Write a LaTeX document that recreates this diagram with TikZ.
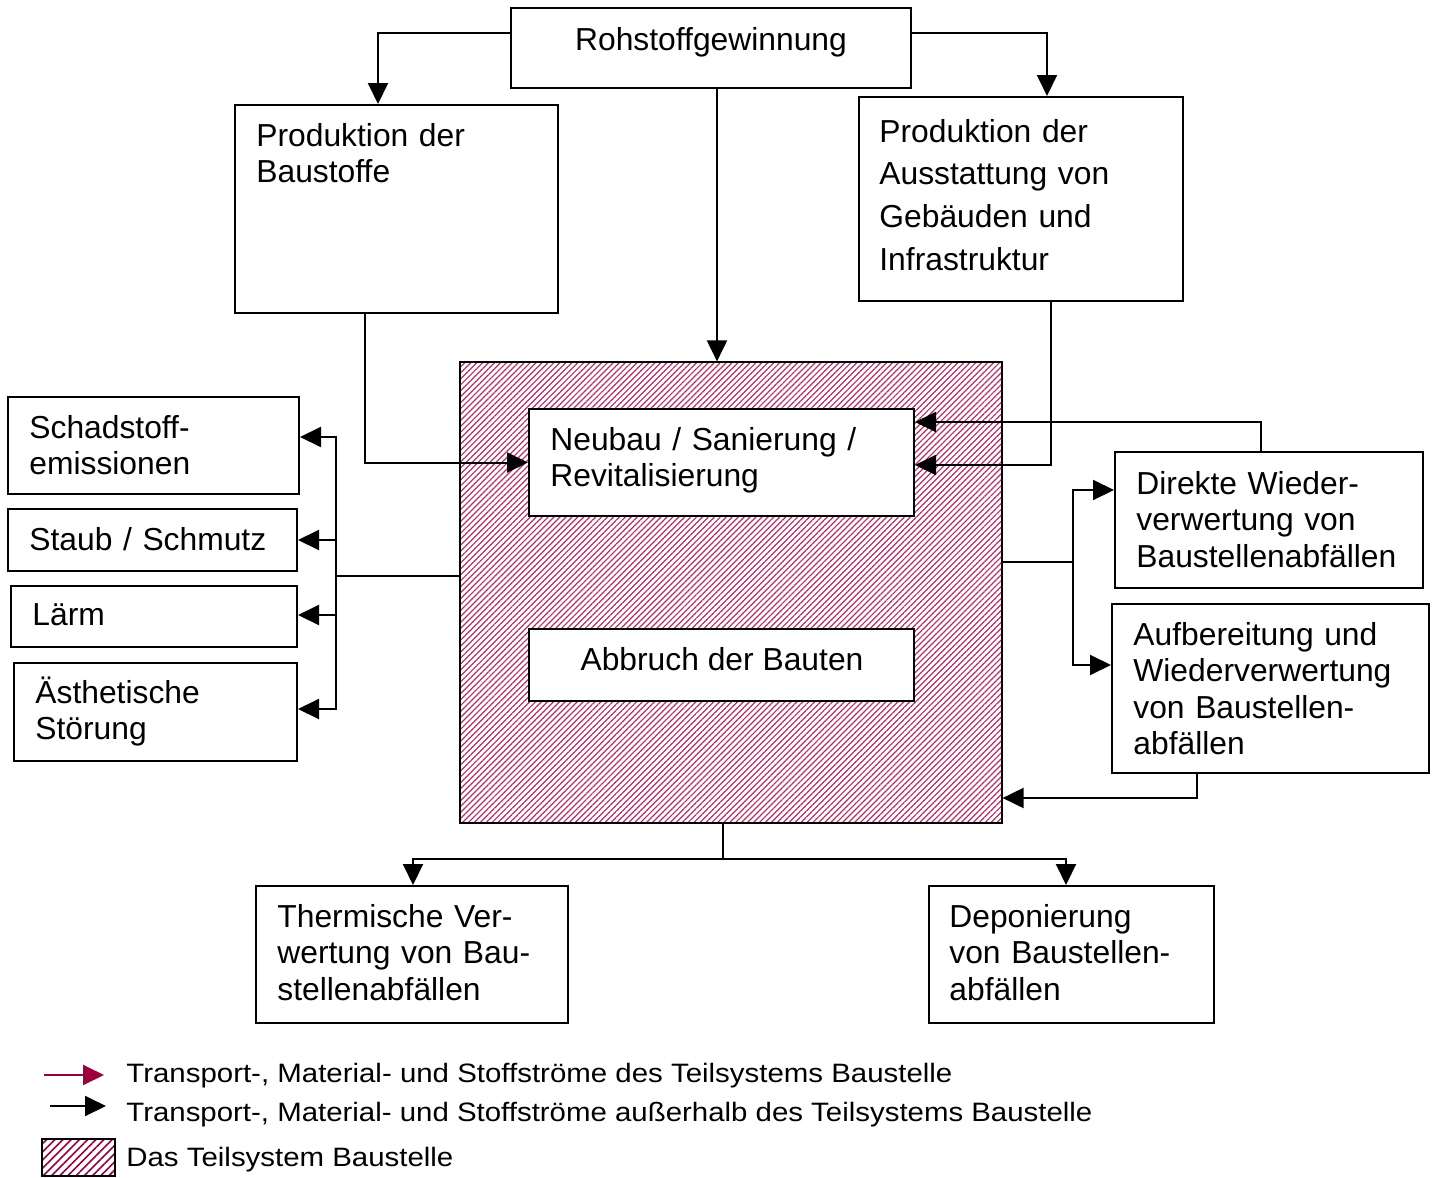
\documentclass[tikz,border=0pt]{standalone}
\usepackage{fontspec}
\usepackage{graphicx}
\setmainfont{Liberation Sans}
\usetikzlibrary{arrows.meta,fit,patterns.meta}
\definecolor{crimson}{RGB}{153,0,61}
\definecolor{hatchred}{RGB}{185,45,100}
\tikzset{
  box/.style={draw, line width=1pt, fill=white, inner sep=0pt},
  sitebox/.style={draw, line width=1pt, inner sep=0pt,
    pattern={Lines[angle=45,distance=2.1pt,line width=0.6pt]}, pattern color=hatchred},
  txt/.style={font=\fontsize{15.9}{18.25}\selectfont, inner sep=0pt, anchor=base west, align=left, text width=170pt},
  ctxt/.style={font=\fontsize{15.9}{18.25}\selectfont, inner sep=0pt, anchor=base},
  ltxt/.style={font=\fontsize{13.3}{16}\selectfont, inner sep=0pt, anchor=base west},
  conn/.style={line width=1pt},
  arr/.style={line width=1pt, -{Triangle[length=10.5pt,width=10pt]}}
}
\begin{document}
\begin{tikzpicture}[x=0.5pt,y=-0.5pt]
\useasboundingbox (0,0) rectangle (1436,1178);

% hatched subsystem
\node[sitebox, fit={(460,362) (1002,823)}] (site) {};

% boxes
\node[box, fit={(511,8) (911,88)}] (roh) {};
\node[box, fit={(235,105) (558,313)}] (bau) {};
\node[box, fit={(859,97) (1183,301)}] (aus) {};
\node[box, fit={(529,409) (914,516)}] (neu) {};
\node[box, fit={(529,629) (914,701)}] (abb) {};
\node[box, fit={(8,397) (299,494)}] (schad) {};
\node[box, fit={(8,509) (297,571)}] (staub) {};
\node[box, fit={(11,586) (297,647)}] (laerm) {};
\node[box, fit={(14,663) (297,761)}] (aest) {};
\node[box, fit={(1115,452) (1423,588)}] (dir) {};
\node[box, fit={(1112,604) (1429,773)}] (auf) {};
\node[box, fit={(256,886) (568,1023)}] (therm) {};
\node[box, fit={(929,886) (1214,1023)}] (dep) {};

% texts
\node[ctxt] (roh-t) at (711,50) {Rohstoffgewinnung};
\node[txt] (bau-t) at (256,146) {Produktion der\\Baustoffe};
\node[txt, font=\fontsize{15.9}{21.35}\selectfont] (aus-t) at (879,142) {Produktion der\\Ausstattung von\\Gebäuden und\\Infrastruktur};
\node[txt] (neu-t) at (550,450) {Neubau / Sanierung /\\Revitalisierung};
\node[ctxt] (abb-t) at (722,670) {Abbruch der Bauten};
\node[txt] (schad-t) at (29,438) {Schadstoff-\\emissionen};
\node[txt] (staub-t) at (29,550) {Staub / Schmutz};
\node[txt] (laerm-t) at (32,625) {Lärm};
\node[txt] (aest-t) at (35,703) {Ästhetische\\Störung};
\node[txt] (dir-t) at (1136,494) {Direkte Wieder-\\verwertung von\\Baustellenabfällen};
\node[txt] (auf-t) at (1133,645) {Aufbereitung und\\Wiederverwertung\\von Baustellen-\\abfällen};
\node[txt] (therm-t) at (277,927) {Thermische Ver-\\wertung von Bau-\\stellenabfällen};
\node[txt] (dep-t) at (949,927) {Deponierung\\von Baustellen-\\abfällen};

% connectors from Rohstoffgewinnung
\draw[arr] (roh.west |- 0,33) -| (378,0 |- bau.north);
\draw[arr] (roh.east |- 0,33) -| (1047,0 |- aus.north);
\draw[arr] (717,0 |- roh.south) -- (717,0 |- site.north);

% into Neubau
\draw[arr] (365,0 |- bau.south) |- (neu.west);
\draw[arr] (1051,0 |- aus.south) |- (neu.east |- 0,465);
\draw[arr] (1261,0 |- dir.north) |- (neu.east |- 0,422);

% left emissions
\coordinate (lj) at (336,576);
\draw[arr] (site.west |- lj) -- (lj) |- (schad.east |- 0,437);
\draw[arr] (lj) |- (staub.east);
\draw[arr] (lj) |- (laerm.east |- 0,615);
\draw[arr] (lj) |- (aest.east |- 0,709);

% right recycling
\coordinate (rj) at (1073,562);
\draw[arr] (site.east |- rj) -- (rj) |- (dir.west |- 0,490);
\draw[arr] (rj) |- (auf.west |- 0,665);
\draw[arr] (1197,0 |- auf.south) |- (site.east |- 0,798);

% bottom
\coordinate (bj) at (723,859);
\draw[arr] (723,0 |- site.south) -- (bj) -| (413,0 |- therm.north);
\draw[arr] (bj) -| (1066,0 |- dep.north);

% legend
\coordinate (l1a) at (44,1075);
\coordinate (l1b) at (104,1075);
\coordinate (l2a) at (50,1106);
\coordinate (l2b) at (106,1106);
\draw[arr, crimson] (l1a) -- (l1b);
\draw[arr] (l2a) -- (l2b);
\node[draw, line width=1pt, inner sep=0pt, pattern={Lines[angle=45,distance=2.9pt,line width=0.8pt]}, pattern color=crimson, fit={(42,1139) (115,1176)}] (leg3) {};
\node[ltxt] (leg1-t) at (126,1082) {\resizebox{413pt}{\height}{Transport-, Material- und Stoffströme des Teilsystems Baustelle}};
\node[ltxt] (leg2-t) at (126,1121) {\resizebox{483pt}{\height}{Transport-, Material- und Stoffströme außerhalb des Teilsystems Baustelle}};
\node[ltxt] (leg3-t) at (126,1166) {\resizebox{163.5pt}{\height}{Das Teilsystem Baustelle}};
\end{tikzpicture}
\end{document}
